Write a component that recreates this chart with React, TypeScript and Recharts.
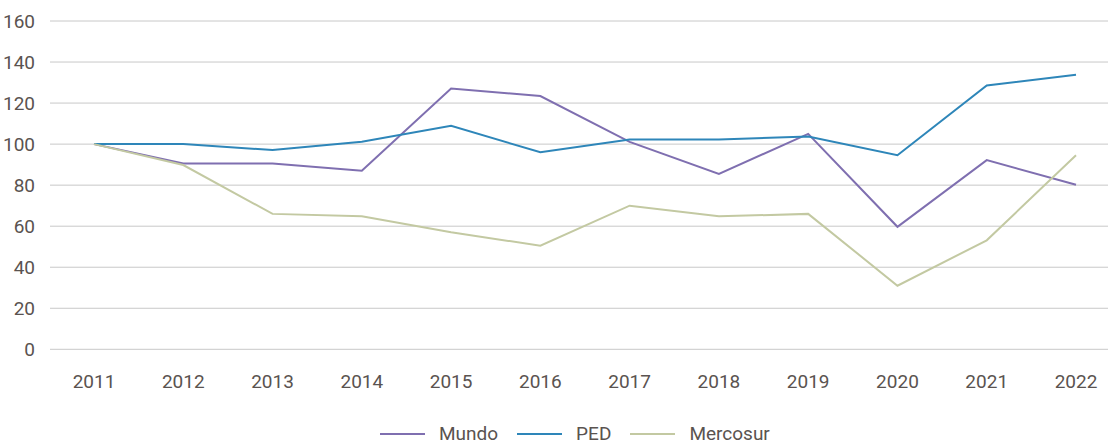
import React from "react";
import { LineChart, Line, XAxis, YAxis, CartesianGrid } from "recharts";

const years = ["2011", "2012", "2013", "2014", "2015", "2016", "2017", "2018", "2019", "2020", "2021", "2022"];
const mundo = [100, 90.6, 90.6, 87, 127.1, 123.4, 101.1, 85.5, 105, 59.7, 92.2, 80.2];
const ped = [100, 100, 97.1, 101.1, 108.9, 96, 102.3, 102.3, 103.7, 94.6, 128.6, 133.8];
const mercosur = [100, 89.8, 66, 64.8, 57, 50.5, 70, 64.8, 66, 31, 53.1, 94.6];
const yTicks = [0, 20, 40, 60, 80, 100, 120, 140, 160];

const seriesNames = ["Mundo", "PED", "Mercosur"];
const colors = ["#7f6fb0", "#2e86b9", "#c3c9a2"];

const data = years.map((y, i) => ({ year: y, Mundo: mundo[i], PED: ped[i], Mercosur: mercosur[i] }));

const FONT = "Roboto, 'Noto Sans', sans-serif";
const TEXT = "#5a5350";
const FS = 19;

function LegendRow() {
  return (
    <div
      style={{
        position: "absolute",
        left: 380,
        top: 426,
        height: 16,
        lineHeight: "16px",
        display: "flex",
        alignItems: "center",
        fontFamily: FONT,
        fontSize: FS,
        color: TEXT,
        whiteSpace: "nowrap",
      }}
    >
      {seriesNames.map((n, i) => (
        <div key={n} style={{ display: "flex", alignItems: "center", marginLeft: i === 0 ? 0 : 19 }}>
          <div style={{ width: 45, height: 2, background: colors[i], marginRight: 14 }} />
          <span>{n}</span>
        </div>
      ))}
    </div>
  );
}

export default function App() {
  return (
    <div style={{ position: "absolute", left: 0, top: 0, width: 1111, height: 443, background: "#fff" }}>
      <LineChart width={1111} height={443} data={data} margin={{ top: 21, right: 3, left: 0, bottom: 20 }}>
        <CartesianGrid horizontal={true} vertical={false} stroke="#c8c8c8" strokeWidth={1} />
        <XAxis
          dataKey="year"
          padding={{ left: 44, right: 32 }}
          axisLine={false}
          tickLine={false}
          tickMargin={19}
          height={73.7}
          tick={{ fill: TEXT, fontSize: FS, fontFamily: FONT }}
        />
        <YAxis
          domain={[0, 160]}
          ticks={yTicks}
          width={50}
          axisLine={false}
          tickLine={false}
          tickMargin={9}
          tick={{ fill: TEXT, fontSize: FS, fontFamily: FONT }}
        />
        {seriesNames.map((n, i) => (
          <Line
            key={n}
            type="linear"
            dataKey={n}
            stroke={colors[i]}
            strokeWidth={2}
            dot={false}
            activeDot={false}
            isAnimationActive={false}
          />
        ))}
      </LineChart>
      <LegendRow />
    </div>
  );
}
